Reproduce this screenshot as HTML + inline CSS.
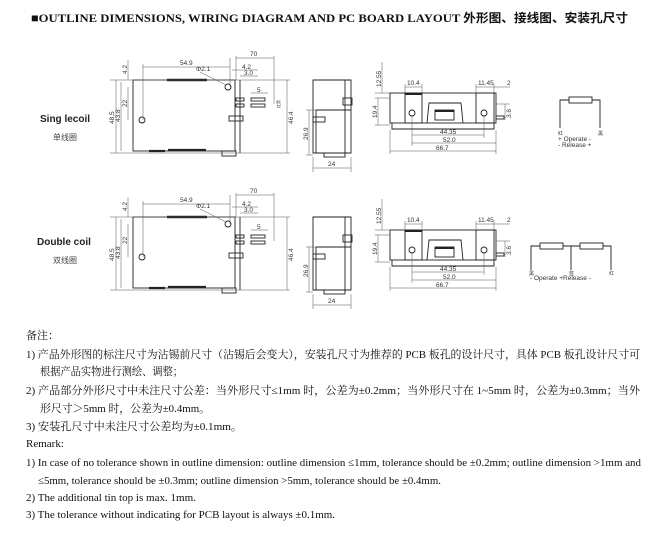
<!DOCTYPE html>
<html><head><meta charset="utf-8"><style>
html,body{margin:0;padding:0;background:#fff;width:653px;height:537px;overflow:hidden}
svg{display:block}
.d{font-family:"Liberation Sans",sans-serif;font-size:6.5px;fill:#333}
.n{font-family:"Liberation Serif","Noto Serif CJK SC",serif;font-size:11px;fill:#111}
</style></head><body>
<svg width="653" height="537" viewBox="0 0 653 537" xmlns="http://www.w3.org/2000/svg">
<text x="31" y="22" textLength="597" lengthAdjust="spacingAndGlyphs" style="font-family:'Liberation Serif','Noto Sans CJK SC',serif;font-weight:bold;font-size:12px;fill:#111">■OUTLINE DIMENSIONS, WIRING DIAGRAM AND PC BOARD LAYOUT 外形图、接线图、安装孔尺寸</text>

<!-- SECTION 1 -->
<g stroke="#222" fill="none" stroke-width="0.9">
 <rect x="133" y="80" width="102" height="71"/>
 <line x1="240" y1="80" x2="240" y2="153"/>
 <line x1="167" y1="80" x2="207" y2="80" stroke-width="2.5"/>
 <line x1="149" y1="151" x2="165" y2="151" stroke-width="2.2"/>
 <line x1="168" y1="150" x2="206" y2="150" stroke-width="2.2"/>
 <circle cx="228" cy="87" r="3"/><circle cx="142" cy="120" r="3"/>
 <rect x="236" y="98" width="8" height="3"/><rect x="236" y="104" width="8" height="3"/>
 <rect x="251" y="98" width="14" height="3"/><rect x="251" y="104" width="14" height="3"/>
 <rect x="229" y="116" width="14" height="5"/>
 <rect x="222" y="151" width="14" height="5"/>
 <g stroke-width="0.5" stroke="#555">
  <line x1="110" y1="80" x2="290" y2="80"/><line x1="110" y1="153" x2="290" y2="153"/>
  <line x1="116" y1="80" x2="116" y2="153"/><line x1="121" y1="82" x2="121" y2="151"/>
  <line x1="128" y1="87" x2="128" y2="120"/><line x1="128" y1="60" x2="128" y2="80"/>
  <line x1="143" y1="64" x2="143" y2="120"/><line x1="230" y1="58" x2="230" y2="87"/>
  <line x1="236" y1="56" x2="236" y2="80"/><line x1="274" y1="56" x2="274" y2="104"/>
  <line x1="143" y1="67" x2="230" y2="67"/><line x1="236" y1="58" x2="274" y2="58"/>
  <line x1="232" y1="70" x2="258" y2="70"/><line x1="240" y1="76" x2="258" y2="76"/>
  <line x1="251" y1="93" x2="268" y2="93"/><line x1="287" y1="80" x2="287" y2="153"/>
  <line x1="200" y1="72" x2="226" y2="85"/>
 </g>
 <!-- side -->
 <path d="M313 80H351V153H313Z"/><line x1="345" y1="80" x2="345" y2="153"/>
 <line x1="316" y1="110" x2="351" y2="110"/><line x1="316" y1="110" x2="316" y2="153"/>
 <rect x="343" y="98" width="9" height="7"/>
 <rect x="313" y="117" width="12" height="5"/>
 <rect x="324" y="153" width="21" height="4"/>
 <g stroke-width="0.5" stroke="#555">
  <line x1="313" y1="157" x2="313" y2="172"/><line x1="351" y1="157" x2="351" y2="172"/>
  <line x1="313" y1="168" x2="351" y2="168"/><line x1="306" y1="110" x2="316" y2="110"/>
  <line x1="309" y1="110" x2="309" y2="155"/><line x1="306" y1="155" x2="313" y2="155"/>
 </g>
 <!-- pcb -->
 <rect x="390" y="93" width="106" height="30"/>
 <path d="M392 123V129H494V123"/>
 <rect x="405" y="93" width="17" height="30"/><rect x="476" y="93" width="18" height="30"/>
 <line x1="405" y1="94" x2="422" y2="94" stroke-width="2"/>
 <circle cx="412" cy="113" r="3"/><circle cx="484" cy="113" r="3"/>
 <path d="M427 123L429 103H461L463 123"/>
 <rect x="435" y="110" width="19" height="10"/><line x1="435" y1="111" x2="454" y2="111" stroke-width="2"/>
 <rect x="496" y="116" width="8" height="3"/>
 <g stroke-width="0.5" stroke="#555">
  <line x1="405" y1="84" x2="405" y2="93"/><line x1="422" y1="84" x2="422" y2="93"/><line x1="405" y1="87" x2="422" y2="87"/>
  <line x1="476" y1="84" x2="476" y2="93"/><line x1="494" y1="84" x2="494" y2="93"/><line x1="476" y1="87" x2="510" y2="87"/>
  <line x1="382" y1="62" x2="382" y2="93"/><line x1="378" y1="98" x2="378" y2="125"/>
  <line x1="375" y1="93" x2="390" y2="93"/><line x1="375" y1="98" x2="390" y2="98"/><line x1="375" y1="125" x2="390" y2="125"/>
  <line x1="505" y1="104" x2="505" y2="120"/><line x1="496" y1="104" x2="510" y2="104"/>
  <line x1="390" y1="130" x2="390" y2="154"/><line x1="496" y1="130" x2="496" y2="154"/>
  <line x1="412" y1="116" x2="412" y2="146"/><line x1="484" y1="116" x2="484" y2="138"/>
  <line x1="412" y1="135" x2="484" y2="135"/><line x1="412" y1="143" x2="496" y2="143"/><line x1="390" y1="151" x2="496" y2="151"/>
 </g>
 <!-- coil -->
 <rect x="569" y="97" width="23" height="6"/>
 <path d="M569 100H560V128M592 100H600V128"/>
</g>
<g class="d">
 <text x="180" y="65">54.9</text><text x="250" y="56">70</text><text x="242" y="69">4.2</text><text x="244" y="75">3.0</text>
 <text x="196" y="71">Φ2.1</text><text x="257" y="92">5</text>
 <text transform="translate(114,124) rotate(-90)">48.5</text><text transform="translate(120,122) rotate(-90)">43.8</text>
 <text transform="translate(127,107) rotate(-90)">22</text><text transform="translate(127,74) rotate(-90)">4.2</text>
 <text transform="translate(293,124) rotate(-90)">46.4</text><text transform="translate(280,108) rotate(-90)" style="font-size:4px">红黑</text>
 <text transform="translate(308,140) rotate(-90)">26.9</text><text x="328" y="166">24</text>
 <text x="407" y="85">10.4</text><text x="478" y="85">11.45</text><text x="507" y="85">2</text>
 <text transform="translate(381,87) rotate(-90)">12.55</text><text transform="translate(377,118) rotate(-90)">19.4</text>
 <text transform="translate(511,118) rotate(-90)">3.6</text>
 <text x="440" y="134">44.35</text><text x="443" y="142">52.0</text><text x="436" y="150">66.7</text>
 <text x="558" y="135" style="font-size:5px">红</text><text x="598" y="135" style="font-size:5px">黑</text>
 <text x="558" y="141">+ Operate  -</text><text x="558" y="147">-  Release  +</text>
</g>
<text x="40" y="122" style="font-family:'Liberation Sans',sans-serif;font-weight:bold;font-size:10px;fill:#222">Sing lecoil</text>
<text x="53" y="140" style="font-family:'Noto Sans CJK SC',sans-serif;font-size:8px;fill:#444">单线圈</text>

<!-- SECTION 2 -->
<g transform="translate(0,137)">
<g stroke="#222" fill="none" stroke-width="0.9">
 <rect x="133" y="80" width="102" height="71"/>
 <line x1="240" y1="80" x2="240" y2="153"/>
 <line x1="167" y1="80" x2="207" y2="80" stroke-width="2.5"/>
 <line x1="149" y1="151" x2="165" y2="151" stroke-width="2.2"/>
 <line x1="168" y1="150" x2="206" y2="150" stroke-width="2.2"/>
 <circle cx="228" cy="87" r="3"/><circle cx="142" cy="120" r="3"/>
 <rect x="236" y="98" width="8" height="3"/><rect x="236" y="104" width="8" height="3"/>
 <rect x="251" y="98" width="14" height="3"/><rect x="251" y="104" width="14" height="3"/>
 <rect x="229" y="116" width="14" height="5"/>
 <rect x="222" y="151" width="14" height="5"/>
 <g stroke-width="0.5" stroke="#555">
  <line x1="110" y1="80" x2="290" y2="80"/><line x1="110" y1="153" x2="290" y2="153"/>
  <line x1="116" y1="80" x2="116" y2="153"/><line x1="121" y1="82" x2="121" y2="151"/>
  <line x1="128" y1="87" x2="128" y2="120"/><line x1="128" y1="60" x2="128" y2="80"/>
  <line x1="143" y1="64" x2="143" y2="120"/><line x1="230" y1="58" x2="230" y2="87"/>
  <line x1="236" y1="56" x2="236" y2="80"/><line x1="274" y1="56" x2="274" y2="104"/>
  <line x1="143" y1="67" x2="230" y2="67"/><line x1="236" y1="58" x2="274" y2="58"/>
  <line x1="232" y1="70" x2="258" y2="70"/><line x1="240" y1="76" x2="258" y2="76"/>
  <line x1="251" y1="93" x2="268" y2="93"/><line x1="287" y1="80" x2="287" y2="153"/>
  <line x1="200" y1="72" x2="226" y2="85"/>
 </g>
 <path d="M313 80H351V153H313Z"/><line x1="345" y1="80" x2="345" y2="153"/>
 <line x1="316" y1="110" x2="351" y2="110"/><line x1="316" y1="110" x2="316" y2="153"/>
 <rect x="343" y="98" width="9" height="7"/>
 <rect x="313" y="117" width="12" height="5"/>
 <rect x="324" y="153" width="21" height="4"/>
 <g stroke-width="0.5" stroke="#555">
  <line x1="313" y1="157" x2="313" y2="172"/><line x1="351" y1="157" x2="351" y2="172"/>
  <line x1="313" y1="168" x2="351" y2="168"/><line x1="306" y1="110" x2="316" y2="110"/>
  <line x1="309" y1="110" x2="309" y2="155"/><line x1="306" y1="155" x2="313" y2="155"/>
 </g>
 <rect x="390" y="93" width="106" height="30"/>
 <path d="M392 123V129H494V123"/>
 <rect x="405" y="93" width="17" height="30"/><rect x="476" y="93" width="18" height="30"/>
 <line x1="405" y1="94" x2="422" y2="94" stroke-width="2"/>
 <circle cx="412" cy="113" r="3"/><circle cx="484" cy="113" r="3"/>
 <path d="M427 123L429 103H461L463 123"/>
 <rect x="435" y="110" width="19" height="10"/><line x1="435" y1="111" x2="454" y2="111" stroke-width="2"/>
 <rect x="496" y="116" width="8" height="3"/>
 <g stroke-width="0.5" stroke="#555">
  <line x1="405" y1="84" x2="405" y2="93"/><line x1="422" y1="84" x2="422" y2="93"/><line x1="405" y1="87" x2="422" y2="87"/>
  <line x1="476" y1="84" x2="476" y2="93"/><line x1="494" y1="84" x2="494" y2="93"/><line x1="476" y1="87" x2="510" y2="87"/>
  <line x1="382" y1="62" x2="382" y2="93"/><line x1="378" y1="98" x2="378" y2="125"/>
  <line x1="375" y1="93" x2="390" y2="93"/><line x1="375" y1="98" x2="390" y2="98"/><line x1="375" y1="125" x2="390" y2="125"/>
  <line x1="505" y1="104" x2="505" y2="120"/><line x1="496" y1="104" x2="510" y2="104"/>
  <line x1="390" y1="130" x2="390" y2="154"/><line x1="496" y1="130" x2="496" y2="154"/>
  <line x1="412" y1="116" x2="412" y2="146"/><line x1="484" y1="116" x2="484" y2="138"/>
  <line x1="412" y1="135" x2="484" y2="135"/><line x1="412" y1="143" x2="496" y2="143"/><line x1="390" y1="151" x2="496" y2="151"/>
 </g>
 <rect x="540" y="106" width="23" height="6"/><rect x="580" y="106" width="23" height="6"/>
 <path d="M540 109H531V133M563 109H580M571 109V133M603 109H611V133"/>
</g>
<g class="d">
 <text x="180" y="65">54.9</text><text x="250" y="56">70</text><text x="242" y="69">4.2</text><text x="244" y="75">3.0</text>
 <text x="196" y="71">Φ2.1</text><text x="257" y="92">5</text>
 <text transform="translate(114,124) rotate(-90)">48.5</text><text transform="translate(120,122) rotate(-90)">43.8</text>
 <text transform="translate(127,107) rotate(-90)">22</text><text transform="translate(127,74) rotate(-90)">4.2</text>
 <text transform="translate(293,124) rotate(-90)">46.4</text>
 <text transform="translate(308,140) rotate(-90)">26.9</text><text x="328" y="166">24</text>
 <text x="407" y="85">10.4</text><text x="478" y="85">11.45</text><text x="507" y="85">2</text>
 <text transform="translate(381,87) rotate(-90)">12.55</text><text transform="translate(377,118) rotate(-90)">19.4</text>
 <text transform="translate(511,118) rotate(-90)">3.6</text>
 <text x="440" y="134">44.35</text><text x="443" y="142">52.0</text><text x="436" y="150">66.7</text>
 <text x="529" y="138" style="font-size:5px">黑</text><text x="569" y="138" style="font-size:5px">蓝</text><text x="609" y="138" style="font-size:5px">红</text>
 <text x="530" y="143">- Operate  +Release      -</text>
</g>
<text x="37" y="108" style="font-family:'Liberation Sans',sans-serif;font-weight:bold;font-size:10px;fill:#222">Double coil</text>
<text x="53" y="126" style="font-family:'Noto Sans CJK SC',sans-serif;font-size:8px;fill:#444">双线圈</text>
</g>

<!-- NOTES -->
<g class="n">
<text x="26" y="339">备注：</text>
<text x="26" y="358" textLength="614" lengthAdjust="spacingAndGlyphs">1)  产品外形图的标注尺寸为沾锡前尺寸（沾锡后会变大），安装孔尺寸为推荐的 PCB 板孔的设计尺寸，具体 PCB 板孔设计尺寸可</text>
<text x="40" y="375" textLength="143" lengthAdjust="spacingAndGlyphs">根据产品实物进行测绘、调整；</text>
<text x="26" y="394" textLength="614" lengthAdjust="spacingAndGlyphs">2)  产品部分外形尺寸中未注尺寸公差：当外形尺寸≤1mm 时，公差为±0.2mm；当外形尺寸在 1~5mm 时，公差为±0.3mm；当外</text>
<text x="40" y="412" textLength="170" lengthAdjust="spacingAndGlyphs">形尺寸＞5mm 时，公差为±0.4mm。</text>
<text x="26" y="430" textLength="216" lengthAdjust="spacingAndGlyphs">3)  安装孔尺寸中未注尺寸公差均为±0.1mm。</text>
<text x="26" y="447">Remark:</text>
<text x="26" y="466" textLength="615" lengthAdjust="spacingAndGlyphs">1)  In case of no tolerance shown in outline dimension: outline dimension ≤1mm, tolerance should be ±0.2mm; outline dimension &gt;1mm and</text>
<text x="38" y="484" textLength="403" lengthAdjust="spacingAndGlyphs">≤5mm, tolerance should be ±0.3mm; outline dimension &gt;5mm, tolerance should be ±0.4mm.</text>
<text x="26" y="501" textLength="170" lengthAdjust="spacingAndGlyphs">2)  The additional tin top is max. 1mm.</text>
<text x="26" y="518" textLength="309" lengthAdjust="spacingAndGlyphs">3)  The tolerance without indicating for PCB layout is always ±0.1mm.</text>
</g>
</svg>
</body></html>
